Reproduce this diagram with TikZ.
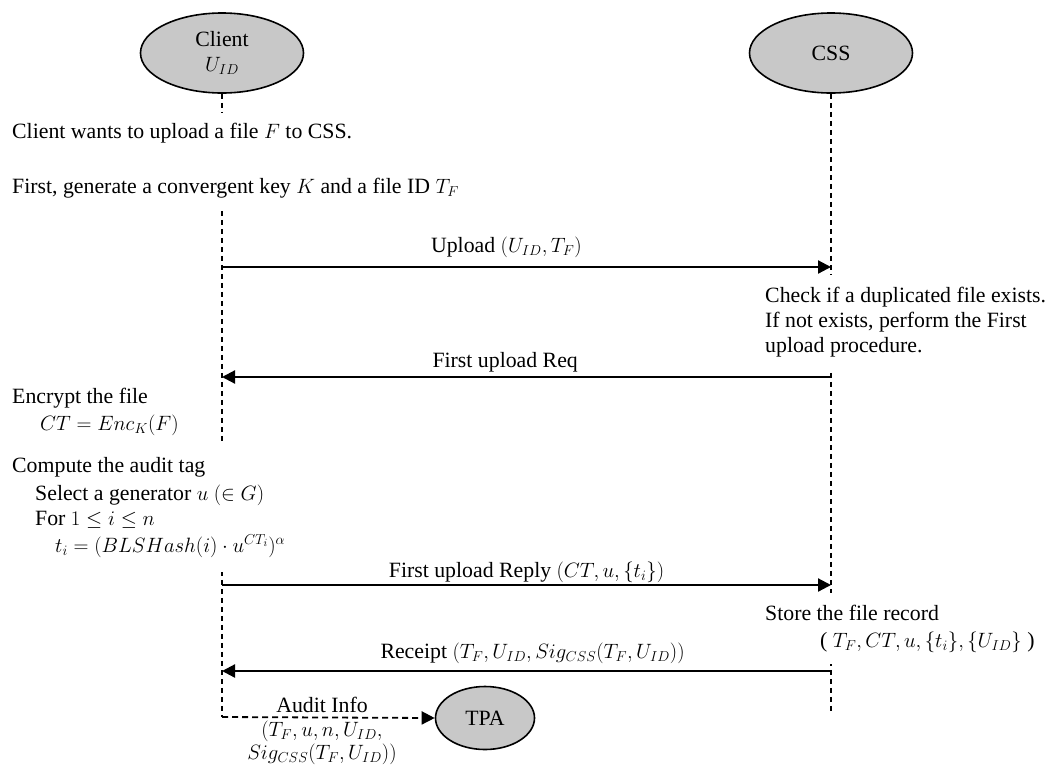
\documentclass[tikz,border=0pt]{standalone}
\usepackage{fontspec}
\setmainfont{Liberation Serif}
\usetikzlibrary{arrows.meta,shapes.geometric}
\definecolor{partyfill}{RGB}{200,200,200}

\begin{document}
\begin{tikzpicture}
[x=1pt,y=-1pt,
every node/.style={font=\fontsize{21.8}{25}\selectfont},
party/.style={draw,ellipse,line width=1.6pt,fill=partyfill,minimum width=163pt,minimum height=80pt,align=center,inner sep=0pt},
lifeline/.style={line width=1.3pt,dash pattern=on 5pt off 4pt},
msg/.style={line width=2.2pt,-{Triangle[length=13pt,width=13pt]}},
auditmsg/.style={line width=1.8pt,dash pattern=on 6pt off 4pt,-{Triangle[length=13pt,width=13pt]}},
note/.style={fill=white,align=left,anchor=base west,inner xsep=3pt},
lbl/.style={anchor=base,inner sep=0pt}]
	\useasboundingbox (0,0) rectangle (1051,769);

	\node[party] (client) at (222,53) {Client\\$U_{ID}$};
	\node[party] (css) at (831,53) {CSS};
	\node[party,minimum width=99pt,minimum height=63pt] (tpa) at (485,718) {TPA};

	\coordinate (client end) at (222,717);
	\coordinate (css end) at (831,713);
	\draw[lifeline] (client.south) -- (client end);
	\draw[lifeline] (css.south) -- (css end);

	% notes are anchored on the baseline of their last line
	\node[note,inner ysep=10pt] (wants) at (9,193)
		{Client wants to upload a file $F$ to CSS.\\[30pt]First, generate a convergent key $K$ and a file ID $T_F$};
	\node[note,inner ysep=12pt] (check) at (762,352)
		{Check if a duplicated file exists.\\If not exists, perform the First\\upload procedure.};
	\node[note,inner ysep=4pt] (encrypt) at (9,430)
		{Encrypt the file\\[2pt]\hspace*{28pt}$CT = Enc_K(F)$};
	\node[note,inner ysep=15pt] (audit tag) at (9,552)
		{Compute the audit tag\\[3pt]
		\hspace*{23pt}Select a generator $u$ $(\in G)$\\
		\hspace*{23pt}For $1 \le i \le n$\\[2pt]
		\hspace*{43pt}$t_i = (BLSHash(i)\cdot u^{CT_i})^{\alpha}$};
	\node[note,inner ysep=12pt] (store) at (762,647)
		{Store the file record\\[2pt]\hspace*{55pt}( $T_F, CT, u, \{t_i\}, \{U_{ID}\}$ )};

	\draw[msg] (client |- 0,267) -- node[lbl,pos=0.467,yshift=15pt]{Upload $(U_{ID}, T_F)$} (css |- 0,267);
	\draw[msg] (css |- 0,377) -- node[lbl,pos=0.535,yshift=10pt]{First upload Req} (client |- 0,377);
	\draw[msg] (client |- 0,585) -- node[lbl,pos=0.5,yshift=8pt]{First upload Reply $(CT, u, \{t_i\})$} (css |- 0,585);
	\draw[msg] (css |- 0,671) -- node[lbl,pos=0.49,yshift=13pt]{Receipt $(T_F, U_{ID}, Sig_{CSS}(T_F, U_{ID}))$} (client |- 0,671);
	\draw[auditmsg] (client end) -- node[lbl,pos=0.47,yshift=5pt]{Audit Info}
		node[lbl,pos=0.47,yshift=-42pt,align=center]{$(T_F, u, n, U_{ID},$\\[-2pt]$Sig_{CSS}(T_F, U_{ID}))$} (tpa.west);
\end{tikzpicture}
\end{document}
